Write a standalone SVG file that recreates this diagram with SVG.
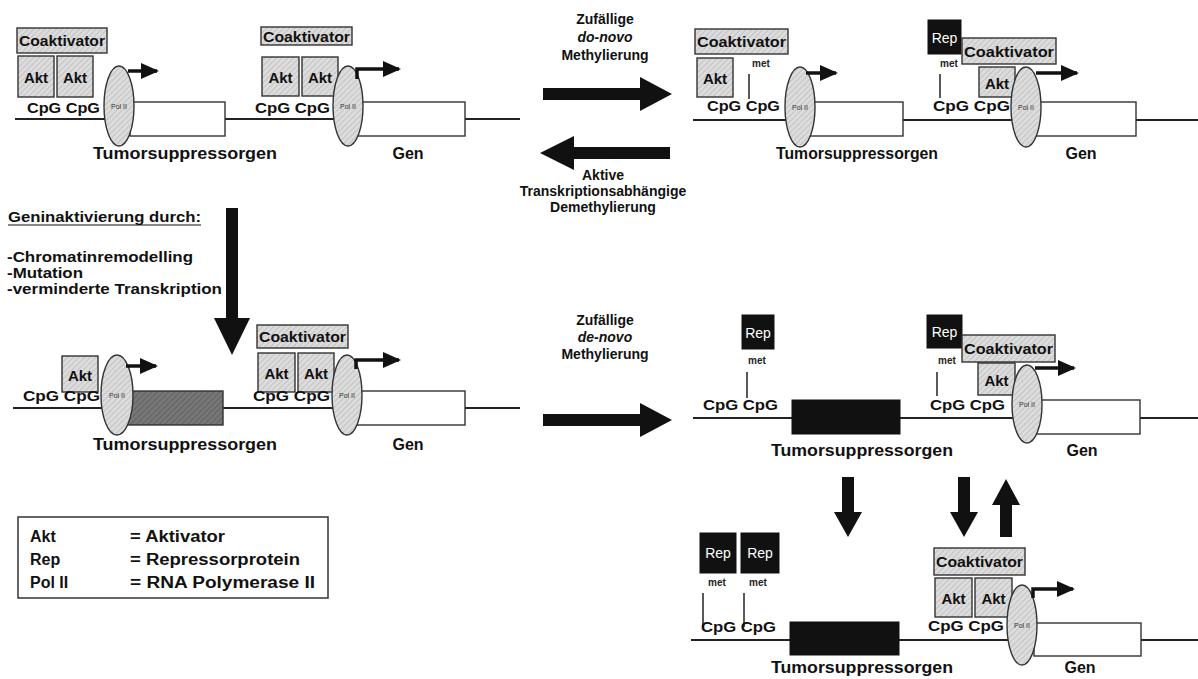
<svg xmlns="http://www.w3.org/2000/svg" width="1198" height="679" viewBox="0 0 1198 679">
<defs>
<pattern id="hg" width="4" height="4" patternUnits="userSpaceOnUse" patternTransform="rotate(45)"><rect width="4" height="4" fill="#dcdcdc"/><line x1="0" y1="0" x2="0" y2="4" stroke="#ababab" stroke-width="1"/></pattern>
<pattern id="hd" width="4" height="4" patternUnits="userSpaceOnUse" patternTransform="rotate(45)"><rect width="4" height="4" fill="#777"/><line x1="0" y1="0" x2="0" y2="4" stroke="#4c4c4c" stroke-width="1"/></pattern>
<style>
.t{font-family:"Liberation Sans",Arial,sans-serif;font-weight:bold;fill:#111}
.m{text-anchor:middle}
.gb{fill:url(#hg);stroke:#333;stroke-width:1.4}
.wb{fill:#fff;stroke:#333;stroke-width:1.4}
.db{fill:url(#hd);stroke:#333;stroke-width:1.4}
.kb{fill:#111;stroke:#111;stroke-width:1}
.el{fill:url(#hg);stroke:#333;stroke-width:1.4}
.dna{stroke:#222;stroke-width:2;fill:none}
.tick{stroke:#222;stroke-width:1.5;fill:none}
.sa{stroke:#111;stroke-width:3.5;fill:none;marker-end:url(#ah)}
.rep{font-family:"Liberation Sans",Arial,sans-serif;fill:#fff;font-size:14px;text-anchor:middle}
.met{font-family:"Liberation Sans",Arial,sans-serif;font-weight:bold;font-size:10px;fill:#222}
.pol{font-family:"Liberation Sans",Arial,sans-serif;font-size:7px;fill:#333;text-anchor:middle}
.big{fill:#111}
</style>
<marker id="ah" markerUnits="userSpaceOnUse" markerWidth="18" markerHeight="18" viewBox="0 0 18 18" refX="16" refY="9" orient="auto"><path d="M0,1 L18,9 L0,17 Z" fill="#111"/></marker>
</defs>
<rect width="1198" height="679" fill="#fff"/>

<!-- DNA lines -->
<g id="dna-lines">
<line class="dna" x1="15" y1="119" x2="520" y2="119"/>
<line class="dna" x1="693" y1="120" x2="1198" y2="120"/>
<line class="dna" x1="13" y1="408" x2="520" y2="408"/>
<line class="dna" x1="693" y1="418" x2="1198" y2="418"/>
<line class="dna" x1="691" y1="640" x2="1198" y2="640"/>
</g>

<!-- Row 1 left: unit A -->
<g id="unitA">
<rect class="gb" x="17" y="28" width="90" height="25"/>
<text class="t" x="19" y="46" font-size="14" textLength="86" lengthAdjust="spacingAndGlyphs">Coaktivator</text>
<rect class="gb" x="18" y="56" width="36" height="41"/>
<rect class="gb" x="57" y="56" width="36" height="41"/>
<text class="t m" x="36" y="83" font-size="15">Akt</text>
<text class="t m" x="75" y="83" font-size="15">Akt</text>
<text class="t" x="27" y="113" font-size="15" textLength="73" lengthAdjust="spacingAndGlyphs">CpG CpG</text>
<rect class="wb" x="130" y="102" width="95" height="34"/>
<ellipse class="el" cx="119" cy="106" rx="15" ry="40"/>
<text class="pol" x="119" y="109">Pol II</text>
<text class="t m" x="185" y="159" font-size="16" textLength="184" lengthAdjust="spacingAndGlyphs">Tumorsuppressorgen</text>
</g>

<!-- Row 1 left: unit B -->
<g id="unitB">
<rect class="gb" x="261" y="27" width="91" height="18"/>
<text class="t" x="263" y="42" font-size="14" textLength="87" lengthAdjust="spacingAndGlyphs">Coaktivator</text>
<rect class="gb" x="262" y="57" width="37" height="39"/>
<rect class="gb" x="302" y="57" width="36" height="39"/>
<text class="t m" x="280.5" y="83" font-size="15">Akt</text>
<text class="t m" x="320" y="83" font-size="15">Akt</text>
<text class="t" x="255" y="113" font-size="15" textLength="75" lengthAdjust="spacingAndGlyphs">CpG CpG</text>
<rect class="wb" x="350" y="102" width="115" height="34"/>
<ellipse class="el" cx="348" cy="106" rx="15" ry="40"/>
<text class="pol" x="348" y="109">Pol II</text>
<text class="t m" x="408" y="159" font-size="16">Gen</text>
</g>

<!-- Row 1 right: unit C -->
<g id="unitC">
<rect class="gb" x="695" y="29" width="93" height="25"/>
<text class="t" x="697" y="47" font-size="14" textLength="89" lengthAdjust="spacingAndGlyphs">Coaktivator</text>
<rect class="gb" x="697" y="58" width="36" height="39"/>
<text class="t m" x="715" y="84" font-size="15">Akt</text>
<text class="met" x="752" y="67">met</text>
<line class="tick" x1="749" y1="74" x2="749" y2="99"/>
<text class="t" x="707" y="111" font-size="15" textLength="73" lengthAdjust="spacingAndGlyphs">CpG CpG</text>
<rect class="wb" x="806" y="102" width="97" height="34"/>
<ellipse class="el" cx="800" cy="107" rx="15" ry="40"/>
<text class="pol" x="800" y="110">Pol II</text>
<text class="t m" x="857" y="159" font-size="16" textLength="162" lengthAdjust="spacingAndGlyphs">Tumorsuppressorgen</text>
</g>

<!-- Row 1 right: unit D -->
<g id="unitD">
<rect class="kb" x="928" y="20" width="33" height="34"/>
<text class="rep" x="944.5" y="43">Rep</text>
<rect class="gb" x="962" y="38" width="94" height="26"/>
<text class="t" x="964" y="57" font-size="14" textLength="90" lengthAdjust="spacingAndGlyphs">Coaktivator</text>
<text class="met" x="940" y="67">met</text>
<line class="tick" x1="940" y1="74" x2="940" y2="98"/>
<rect class="gb" x="979" y="67" width="36" height="30"/>
<text class="t m" x="997" y="89" font-size="15">Akt</text>
<text class="t" x="933" y="111" font-size="15" textLength="77" lengthAdjust="spacingAndGlyphs">CpG CpG</text>
<rect class="wb" x="1030" y="102" width="106" height="34"/>
<ellipse class="el" cx="1026" cy="107" rx="15" ry="40"/>
<text class="pol" x="1026" y="110">Pol II</text>
<text class="t m" x="1081" y="159" font-size="16">Gen</text>
</g>

<!-- Row 2 left: unit E -->
<g id="unitE">
<rect class="gb" x="62" y="356" width="36" height="36"/>
<text class="t m" x="80" y="381" font-size="15">Akt</text>
<text class="t" x="23" y="401" font-size="15" textLength="77" lengthAdjust="spacingAndGlyphs">CpG CpG</text>
<rect class="db" x="124" y="391" width="99" height="34"/>
<ellipse class="el" cx="117" cy="395" rx="16" ry="40"/>
<text class="pol" x="117" y="398">Pol II</text>
<text class="t m" x="185" y="450" font-size="16" textLength="184" lengthAdjust="spacingAndGlyphs">Tumorsuppressorgen</text>
</g>

<!-- Row 2 left: unit F -->
<g id="unitF">
<rect class="gb" x="257" y="325" width="91" height="23"/>
<text class="t" x="259" y="342" font-size="14" textLength="87" lengthAdjust="spacingAndGlyphs">Coaktivator</text>
<rect class="gb" x="258" y="353" width="37" height="39"/>
<rect class="gb" x="298" y="353" width="36" height="39"/>
<text class="t m" x="276.5" y="379" font-size="15">Akt</text>
<text class="t m" x="316" y="379" font-size="15">Akt</text>
<text class="t" x="253" y="401" font-size="15" textLength="77" lengthAdjust="spacingAndGlyphs">CpG CpG</text>
<rect class="wb" x="350" y="391" width="115" height="34"/>
<ellipse class="el" cx="347" cy="395" rx="15" ry="40"/>
<text class="pol" x="347" y="398">Pol II</text>
<text class="t m" x="408" y="450" font-size="16">Gen</text>
</g>

<!-- Row 2 right: unit G -->
<g id="unitG">
<rect class="kb" x="742" y="315" width="32" height="34"/>
<text class="rep" x="758" y="338">Rep</text>
<text class="met" x="748" y="364">met</text>
<line class="tick" x1="747" y1="372" x2="747" y2="398"/>
<text class="t" x="703" y="410" font-size="15" textLength="75" lengthAdjust="spacingAndGlyphs">CpG CpG</text>
<rect class="kb" x="792" y="400" width="108" height="34"/>
<text class="t m" x="862" y="456" font-size="16" textLength="182" lengthAdjust="spacingAndGlyphs">Tumorsuppressorgen</text>
</g>

<!-- Row 2 right: unit H -->
<g id="unitH">
<rect class="kb" x="927" y="315" width="35" height="33"/>
<text class="rep" x="944.5" y="337">Rep</text>
<rect class="gb" x="962" y="335" width="93" height="27"/>
<text class="t" x="964" y="354" font-size="14" textLength="89" lengthAdjust="spacingAndGlyphs">Coaktivator</text>
<text class="met" x="938" y="364">met</text>
<line class="tick" x1="937" y1="372" x2="937" y2="396"/>
<rect class="gb" x="978" y="363" width="37" height="32"/>
<text class="t m" x="996.5" y="386" font-size="15">Akt</text>
<text class="t" x="930" y="410" font-size="15" textLength="75" lengthAdjust="spacingAndGlyphs">CpG CpG</text>
<rect class="wb" x="1030" y="400" width="110" height="34"/>
<ellipse class="el" cx="1027" cy="404" rx="15" ry="39"/>
<text class="pol" x="1027" y="407">Pol II</text>
<text class="t m" x="1082" y="456" font-size="16">Gen</text>
</g>

<!-- Row 3 right: unit I -->
<g id="unitI">
<rect class="kb" x="700" y="533" width="36" height="40"/>
<rect class="kb" x="741" y="533" width="38" height="40"/>
<text class="rep" x="718" y="558">Rep</text>
<text class="rep" x="760" y="558">Rep</text>
<text class="met" x="708" y="586">met</text>
<text class="met" x="749" y="586">met</text>
<line class="tick" x1="703" y1="593" x2="703" y2="627"/>
<line class="tick" x1="744" y1="593" x2="744" y2="627"/>
<text class="t" x="701" y="632" font-size="15" textLength="75" lengthAdjust="spacingAndGlyphs">CpG CpG</text>
<rect class="kb" x="790" y="622" width="109" height="33"/>
<text class="t m" x="862" y="673" font-size="16" textLength="182" lengthAdjust="spacingAndGlyphs">Tumorsuppressorgen</text>
</g>

<!-- Row 3 right: unit J -->
<g id="unitJ">
<rect class="gb" x="934" y="548" width="91" height="27"/>
<text class="t" x="936" y="567" font-size="14" textLength="87" lengthAdjust="spacingAndGlyphs">Coaktivator</text>
<rect class="gb" x="935" y="578" width="37" height="39"/>
<rect class="gb" x="975" y="578" width="37" height="39"/>
<text class="t m" x="953.5" y="604" font-size="15">Akt</text>
<text class="t m" x="993.5" y="604" font-size="15">Akt</text>
<text class="t" x="928" y="631" font-size="15" textLength="76" lengthAdjust="spacingAndGlyphs">CpG CpG</text>
<rect class="wb" x="1034" y="623" width="107" height="33"/>
<ellipse class="el" cx="1022" cy="625" rx="15" ry="40"/>
<text class="pol" x="1022" y="628">Pol II</text>
<text class="t m" x="1080" y="673" font-size="16">Gen</text>
</g>

<!-- Middle labels -->
<g id="label-top-forward">
<text class="t m" x="605" y="24" font-size="14">Zufällige</text>
<text class="t m" x="605" y="42" font-size="14" font-style="italic">do-novo</text>
<text class="t m" x="605" y="60" font-size="14">Methylierung</text>
</g>
<g id="label-top-back">
<text class="t m" x="603" y="180" font-size="14">Aktive</text>
<text class="t m" x="603" y="196" font-size="14">Transkriptionsabhängige</text>
<text class="t m" x="603" y="212" font-size="14">Demethylierung</text>
</g>
<g id="label-bottom-forward">
<text class="t m" x="605" y="325" font-size="14">Zufällige</text>
<text class="t m" x="605" y="342" font-size="14" font-style="italic">de-novo</text>
<text class="t m" x="605" y="359" font-size="14">Methylierung</text>
</g>

<!-- Left text -->
<g id="label-inactivation">
<text class="t" x="8" y="222" font-size="14" textLength="193" lengthAdjust="spacingAndGlyphs">Geninaktivierung durch:</text>
<line x1="8" y1="225" x2="201" y2="225" stroke="#111" stroke-width="1.2"/>
<text class="t" x="7" y="262" font-size="14" textLength="186" lengthAdjust="spacingAndGlyphs">-Chromatinremodelling</text>
<text class="t" x="7" y="278" font-size="14" textLength="76" lengthAdjust="spacingAndGlyphs">-Mutation</text>
<text class="t" x="7" y="294" font-size="14" textLength="215" lengthAdjust="spacingAndGlyphs">-verminderte Transkription</text>
</g>

<!-- Legend -->
<g id="legend">
<rect x="18" y="517" width="310" height="81" fill="#fff" stroke="#333" stroke-width="1.5"/>
<text class="t" x="30" y="542" font-size="16">Akt</text>
<text class="t" x="30" y="565" font-size="16">Rep</text>
<text class="t" x="30" y="588" font-size="16">Pol II</text>
<text class="t" x="130" y="542" font-size="16" textLength="95" lengthAdjust="spacingAndGlyphs">= Aktivator</text>
<text class="t" x="130" y="565" font-size="16" textLength="170" lengthAdjust="spacingAndGlyphs">= Repressorprotein</text>
<text class="t" x="130" y="588" font-size="16" textLength="185" lengthAdjust="spacingAndGlyphs">= RNA Polymerase II</text>
</g>

<!-- Connectors -->
<g id="connectors">
<line class="sa" x1="128" y1="71" x2="157" y2="71"/>
<path class="sa" d="M357,79 V69 H399"/>
<line class="sa" x1="806" y1="73" x2="836" y2="73"/>
<line class="sa" x1="1036" y1="73" x2="1077" y2="73"/>
<line class="sa" x1="126" y1="366" x2="156" y2="366"/>
<path class="sa" d="M356,369 V360 H399"/>
<line class="sa" x1="1035" y1="368" x2="1074" y2="368"/>
<path class="sa" d="M1033,598 V589 H1073"/>
<polygon class="big" points="543,88 640,88 640,77 672,94 640,111 640,100 543,100"/>
<polygon class="big" points="670,147 574,147 574,136 540,153 574,170 574,159 670,159"/>
<polygon class="big" points="543,414 640,414 640,403 672,420 640,437 640,426 543,426"/>
<polygon class="big" points="226,208 238,208 238,318 250,318 232,355 214,318 226,318"/>
<polygon class="big" points="842,477 854,477 854,512 862,512 848,537 834,512 842,512"/>
<polygon class="big" points="958,477 970,477 970,512 978,512 964,537 950,512 958,512"/>
<polygon class="big" points="1000,537 1012,537 1012,505 1020,505 1006,479 992,505 1000,505"/>
</g>
</svg>
